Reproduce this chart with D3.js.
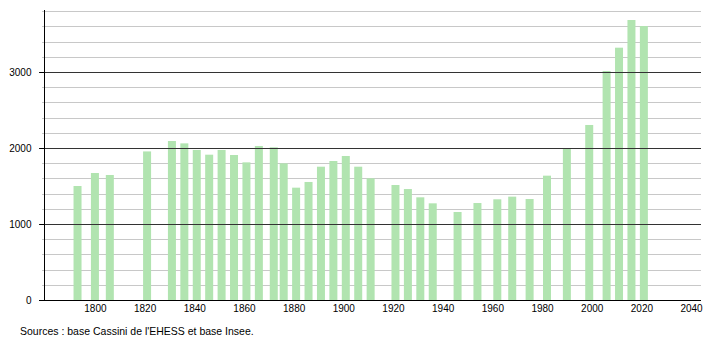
<!DOCTYPE html>
<html>
<head>
<meta charset="utf-8">
<script src="https://cdn.jsdelivr.net/npm/d3@7"></script>
<style>
  body { margin: 0; background: #fff; }
  text { font-family: "Liberation Sans", Arial, sans-serif; }
</style>
</head>
<body>
<div id="chart"></div>
<script>
// census years and population
var years = [1793, 1800, 1806, 1821, 1831, 1836, 1841, 1846, 1851, 1856, 1861, 1866, 1872, 1876,
  1881, 1886, 1891, 1896, 1901, 1906, 1911, 1921, 1926, 1931, 1936, 1946, 1954, 1962, 1968,
  1975, 1982, 1990, 1999, 2006, 2011, 2016, 2021]
var population = [1500, 1671, 1645, 1955, 2092, 2061, 1974, 1912, 1974, 1908, 1811, 2026, 2009, 1798,
  1478, 1553, 1754, 1829, 1895, 1754, 1601, 1513, 1460, 1351, 1272, 1158, 1276, 1325, 1360,
  1329, 1636, 1987, 2303, 3013, 3320, 3684, 3605]
var xTicks = [1800, 1820, 1840, 1860, 1880, 1900, 1920, 1940, 1960, 1980, 2000, 2020, 2040]
var yMajor = [0, 1000, 2000, 3000]
var yMinor = d3.range(200, 3801, 200)
var source = "Sources : base Cassini de l'EHESS et base Insee."

var width = 710, height = 340

var svg = d3.select("#chart")
  .append("svg")
  .attr("width", width)
  .attr("height", height)

var xScale = d3.scaleLinear()
  .domain([1779.5, 2044])
  .range([44, 701])

var yScale = d3.scaleLinear()
  .domain([0, 3800])
  .range([300, 11.2])

// light grid every 200
svg.append("g")
  .attr("class", "grid")
  .selectAll("line")
  .data(yMinor.filter(d => d % 1000 !== 0))
  .enter()
  .append("line")
  .attr("x1", 42)
  .attr("x2", 701)
  .attr("y1", d => Math.round(yScale(d)) + 0.5)
  .attr("y2", d => Math.round(yScale(d)) + 0.5)
  .attr("stroke", "#c8c8c8")
  .attr("stroke-width", 1)

// bars
svg.append("g")
  .attr("class", "bars")
  .selectAll("rect")
  .data(years)
  .enter()
  .append("rect")
  .attr("x", d => xScale(d) - 4)
  .attr("width", 8)
  .attr("y", (d, i) => yScale(population[i]))
  .attr("height", (d, i) => yScale(0) - yScale(population[i]))
  .attr("fill", "#b1e4b0")

// dark lines every 1000
svg.append("g")
  .attr("class", "major")
  .selectAll("line")
  .data(yMajor.filter(d => d > 0))
  .enter()
  .append("line")
  .attr("x1", 39)
  .attr("x2", 701)
  .attr("y1", d => Math.round(yScale(d)) + 0.5)
  .attr("y2", d => Math.round(yScale(d)) + 0.5)
  .attr("stroke", "#333")
  .attr("stroke-width", 1)

// Y axis
var yAxis = d3.axisLeft(yScale)
  .tickValues(yMajor)
  .tickSize(5)
  .tickPadding(8)
  .tickFormat(d3.format("d"))

var yRender = svg.append("g")
  .attr("transform", "translate(44.5,0)")
  .call(yAxis)
yRender.select(".domain").attr("stroke", "#000").attr("d", "M0,10V300")
yRender.selectAll("text")
  .style("font-size", "10px")
  .attr("fill", "#000")

// X axis
var xAxis = d3.axisBottom(xScale)
  .tickValues(xTicks)
  .tickSize(0)
  .tickPadding(4)
  .tickFormat(d3.format("d"))

var xRender = svg.append("g")
  .attr("transform", "translate(0,300.5)")
  .call(xAxis)
xRender.select(".domain").attr("stroke", "#000").attr("d", "M39,0H701")
xRender.selectAll("text")
  .style("font-size", "10px")
  .attr("fill", "#000")

svg.append("text")
  .attr("x", 20)
  .attr("y", 335)
  .style("font-size", "10.5px")
  .attr("fill", "#000")
  .text(source)
</script>
</body>
</html>
